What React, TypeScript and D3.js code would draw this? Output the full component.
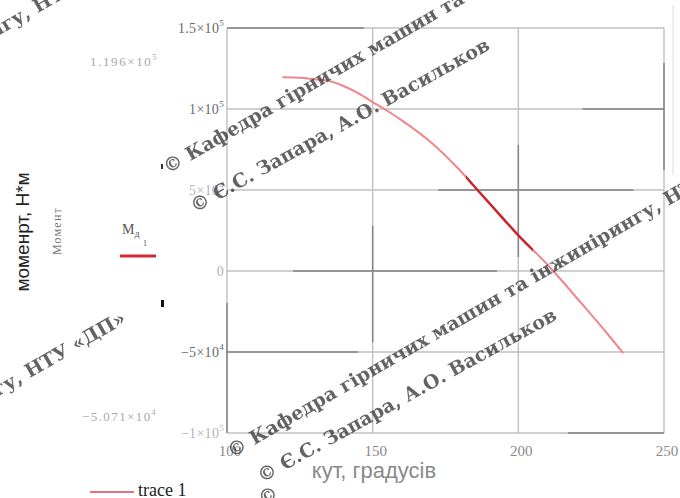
import React from "react";
import * as d3 from "d3";

// ---- data ----
const angles = [119, 125, 130, 135, 140, 145, 150, 154, 160, 170, 180, 186, 190, 200, 210, 212, 220, 230, 236];
const moment = [119600, 119300, 118300, 117300, 114200, 109800, 104300, 100000, 93000, 79500, 62000, 50000, 42000, 22000, 3900, 0, -16500, -37500, -50710];
const xTicks = [100, 150, 200, 250];
const yTicks = [150000, 100000, 50000, 0, -50000, -100000];
const yTickShade = ["#6a6a6a", "#6a6a6a", "#b5b5b5", "#b5b5b5", "#6a6a6a", "#b5b5b5"];
const xTickLabels = ["100", "150", "200", "250"];
const markerLabels = [["1.196×10", "5"], ["−5.071×10", "4"]];
const darkSegment = [182, 205];

// scan-like darker grid pieces (data units)
const darkH = [
  { v: 150000, a: 100, b: 147 },
  { v: 100000, a: 222, b: 250 },
  { v: 50000, a: 172.5, b: 239.5 },
  { v: 0, a: 122.6, b: 192.7 },
  { v: -50000, a: 100, b: 145 },
  { v: -100000, a: 217, b: 250 },
];
const darkV = [
  { v: 250, a: 128400, b: 62300 },
  { v: 200, a: 77800, b: 8600 },
  { v: 150, a: 28000, b: -44000 },
  { v: 100, a: -19800, b: -100000 },
];

const WM_K = "© Кафедра гірничих машин та інжинірингу, НТУ «ДП»";
const WM_Z = "© Є.С. Запара,  А.О. Васильков";

const x = d3.scaleLinear().domain([100, 250]).range([227, 664]);
const y = d3.scaleLinear().domain([-100000, 150000]).range([433, 28]);

function fmt(v: number): [string, string] {
  if (v === 0) return ["0", ""];
  const e = Math.floor(Math.log10(Math.abs(v)));
  const m = v / Math.pow(10, e);
  return [(m < 0 ? "−" : "") + Math.abs(m) + "×10", String(e)];
}

export default function App() {
  const pts = angles.map((a, i) => [a, moment[i]] as [number, number]);
  const line = d3
    .line<[number, number]>()
    .x((d) => x(d[0]))
    .y((d) => y(d[1]))
    .curve(d3.curveMonotoneX);
  const path = line(pts) || "";
  const serif = "'Liberation Serif', 'Times New Roman', serif";
  const sans = "'Liberation Sans', Arial, sans-serif";
  const wm = "'DejaVu Serif', serif";
  const grid = "#c0c0c0";
  const dark = "#858585";

  return (
    <svg
      width={680}
      height={498}
      style={{ position: "absolute", left: 0, top: 0, background: "#fff" }}
    >
      <defs>
        <clipPath id="darkClip">
          <rect x={x(darkSegment[0])} y={0} width={x(darkSegment[1]) - x(darkSegment[0])} height={498} />
        </clipPath>
      </defs>
      <rect width={680} height={498} fill="#fff" />

      {/* faint right line */}
      <line x1={673} x2={673} y1={5} y2={175} stroke="#eeeeee" strokeWidth={2} />

      {/* grid */}
      {xTicks.map((t) => (
        <line key={"gx" + t} x1={x(t)} x2={x(t)} y1={y(150000)} y2={y(-100000)} stroke={grid} strokeWidth={1.4} />
      ))}
      {yTicks.map((t) => (
        <line key={"gy" + t} x1={x(100)} x2={x(250)} y1={y(t)} y2={y(t)} stroke={grid} strokeWidth={1.4} />
      ))}
      {darkH.map((d, i) => (
        <line key={"dh" + i} x1={x(d.a)} x2={x(d.b)} y1={y(d.v)} y2={y(d.v)} stroke={dark} strokeWidth={1.5} />
      ))}
      {darkV.map((d, i) => (
        <line key={"dv" + i} x1={x(d.v)} x2={x(d.v)} y1={y(d.a)} y2={y(d.b)} stroke={dark} strokeWidth={1.5} />
      ))}

      {/* curve */}
      <path d={path} fill="none" stroke="#f0868c" strokeWidth={2} />
      <path d={path} fill="none" stroke="#d0202c" strokeWidth={2.4} clipPath="url(#darkClip)" />

      {/* y tick labels */}
      {yTicks.map((t, i) => {
        const [m, e] = fmt(t);
        return (
          <text key={"yl" + t} x={x(100) - 3} y={y(t) + 5} textAnchor="end" fontFamily={serif} fontSize={14} letterSpacing={0.3} fill={yTickShade[i]}>
            {m}
            {e && (
              <tspan dy={-7} fontSize={9}>
                {e}
              </tspan>
            )}
          </text>
        );
      })}

      {/* x tick labels */}
      {xTicks.map((t, i) => (
        <text key={"xl" + t} x={x(t) + 3} y={456} textAnchor="middle" fontFamily={serif} fontSize={15} fill="#8a8a8a">
          {xTickLabels[i]}
        </text>
      ))}

      {/* marker value labels */}
      <text x={158} y={66} textAnchor="end" fontFamily={serif} fontSize={13} letterSpacing={1.6} fill="#a8a8a8">
        {markerLabels[0][0]}
        <tspan dy={-6} fontSize={8}>{markerLabels[0][1]}</tspan>
      </text>
      <text x={157} y={421} textAnchor="end" fontFamily={serif} fontSize={13} letterSpacing={1.4} fill="#a8a8a8">
        {markerLabels[1][0]}
        <tspan dy={-6} fontSize={8}>{markerLabels[1][1]}</tspan>
      </text>

      {/* axis titles */}
      <text x={374} y={478} textAnchor="middle" fontFamily={sans} fontSize={22} fill="#8a8a8a">
        кут, градусів
      </text>
      <text transform="translate(29,232) rotate(-90)" textAnchor="middle" fontFamily={sans} fontSize={19} fill="#222">
        моменрт, Н*м
      </text>
      <text transform="translate(61,231) rotate(-90)" textAnchor="middle" fontFamily={serif} fontSize={12} letterSpacing={1.2} fill="#777">
        Момент
      </text>

      {/* trace label */}
      <text x={122} y={234} fontFamily={serif} fontSize={14} fill="#555">
        M
        <tspan dy={3} fontSize={10}>д</tspan>
      </text>
      <text x={143} y={246} fontFamily={serif} fontSize={8} fill="#555">1</text>
      <line x1={120} x2={156} y1={256} y2={256} stroke="#d42a33" strokeWidth={3.2} />

      {/* stray marks */}
      <rect x={161} y={164} width={2} height={5} fill="#333" />
      <rect x={161} y={300} width={3} height={7} fill="#111" />

      {/* legend */}
      <line x1={90} x2={134} y1={492} y2={492} stroke="#e0404a" strokeWidth={1.6} />
      <text x={138} y={496} fontFamily={serif} fontSize={18} fill="#222">
        trace 1
      </text>

      {/* watermarks */}
      <g fontFamily={wm} fontSize={19} fontWeight="bold" fill="#3d3d3d" opacity={0.8}>
        <text transform="translate(168,174) rotate(-30)">{WM_K}</text>
        <text transform="translate(195,213) rotate(-29)">{WM_Z}</text>
        <text transform="translate(232,458) rotate(-30)">{WM_K}</text>
        <text transform="translate(262,483) rotate(-29)">{WM_Z}</text>
        <text transform="translate(127,322) rotate(-30)" textAnchor="end">{WM_K}</text>
        <text transform="translate(135,-43) rotate(-30)" textAnchor="end">{WM_K}</text>
        <text transform="translate(263,506) rotate(-30)">©</text>
      </g>
    </svg>
  );
}
